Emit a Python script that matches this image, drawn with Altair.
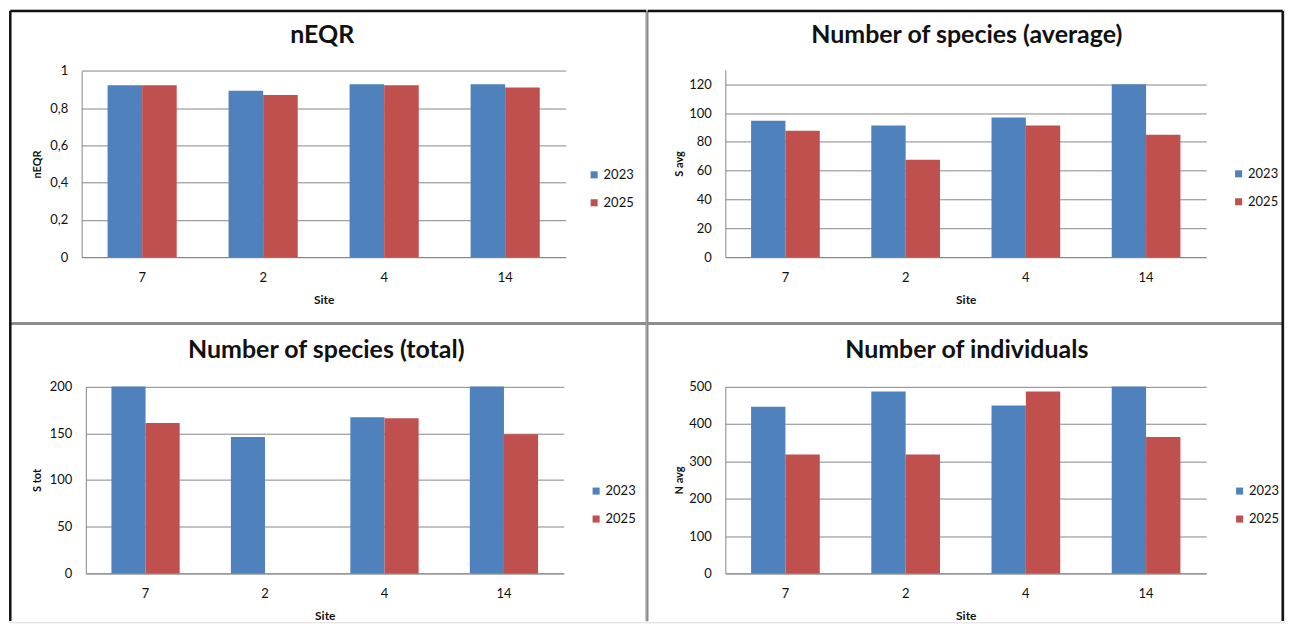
import altair as alt
import pandas as pd

# ---------------- data ----------------
sites = ["7", "2", "4", "14"]
years = ["2023", "2025"]

neqr_2023 = [0.923, 0.893, 0.928, 0.928]
neqr_2025 = [0.923, 0.871, 0.923, 0.911]

savg_2023 = [94.6, 91.4, 96.9, 120.0]
savg_2025 = [87.7, 67.6, 91.4, 85.0]

stot_2023 = [200, 146, 167, 200]
stot_2025 = [161, None, 166, 149]

navg_2023 = [446, 487, 449, 500]
navg_2025 = [318, 318, 487, 365]

titles = ["nEQR", "Number of species (average)", "Number of species (total)", "Number of individuals"]
ytitles = ["nEQR", "S avg", "S tot", "N avg"]
ydomains = [[0, 1], [0, 130], [0, 200], [0, 500]]
yticks = [[0, 0.2, 0.4, 0.6, 0.8, 1], [0, 20, 40, 60, 80, 100, 120],
          [0, 50, 100, 150, 200], [0, 100, 200, 300, 400, 500]]

BLUE = "#4F81BD"
RED = "#C0504D"
GRID = "#868686"
FONT = "Lato"
TITLE_SIZE = 25

one = pd.DataFrame({"d": [0]})


def make_df(v23, v25):
    rows = []
    for s, a, b in zip(sites, v23, v25):
        if a is not None:
            rows.append({"Site": s, "Year": "2023", "Value": a})
        if b is not None:
            rows.append({"Site": s, "Year": "2025", "Value": b})
    return pd.DataFrame(rows)


def rule(x1, y1, x2, y2, color, w):
    return alt.Chart(one).mark_rule(color=color, strokeWidth=w).encode(
        x=alt.value(x1), y=alt.value(y1), x2=alt.value(x2), y2=alt.value(y2))


def panel(i, v23, v25, cw, ch, xr, yr, ytitle_dx, title_dx, title_y, legend_xy, borders):
    df = make_df(v23, v25)
    comma = i == 0
    label_expr = "replace(format(datum.value, '~g'), '.', ',')" if comma else "format(datum.value, 'd')"
    bars = alt.Chart(df).mark_bar().encode(
        x=alt.X("Site:N", sort=sites,
                scale=alt.Scale(domain=sites, range=xr, paddingInner=0.4286, paddingOuter=0.2143),
                axis=alt.Axis(title="Site", offset=-(ch - yr[0]), labelAngle=0, ticks=False, tickSize=0,
                              domainColor=GRID, domainWidth=1, labelFontSize=13, labelColor="#111",
                              labelPadding=20, labelBaseline="middle", labelFont=FONT,
                              titleFont=FONT, titleFontSize=12, titleFontWeight="bold", titleColor="#111",
                              titleX=(xr[0] + xr[1]) / 2, titleY=42, titleBaseline="middle",
                              titleAlign="center")),
        xOffset=alt.XOffset("Year:N", scale=alt.Scale(domain=years, paddingInner=0, paddingOuter=0)),
        y=alt.Y("Value:Q",
                scale=alt.Scale(domain=ydomains[i], range=yr, nice=False, zero=True),
                axis=alt.Axis(title=ytitles[i], values=yticks[i], offset=-xr[0], grid=True,
                              gridColor=GRID, gridWidth=1, domainColor=GRID, domainWidth=1,
                              ticks=False, tickSize=0, labelPadding=14, labelFontSize=13,
                              labelColor="#111", labelFont=FONT, labelExpr=label_expr,
                              titleFont=FONT, titleFontSize=11, titleFontWeight="bold",
                              titleColor="#111", titleAngle=270, titleX=ytitle_dx,
                              titleY=(yr[0] + yr[1]) / 2, titleAlign="center",
                              titleBaseline="middle")),
        color=alt.Color("Year:N", scale=alt.Scale(domain=years, range=[BLUE, RED]),
                        legend=alt.Legend(title=None, orient="none", legendX=legend_xy[0],
                                          legendY=legend_xy[1], symbolType="square",
                                          symbolSize=50, symbolStrokeWidth=0, labelFontSize=13,
                                          labelFont=FONT, labelColor="#111", rowPadding=14,
                                          labelOffset=3)),
    )
    rules = [rule(*b) for b in borders]
    return alt.layer(bars, *rules).properties(
        width=cw, height=ch,
        title=alt.TitleParams(titles[i], anchor="middle", frame="group",
                              offset=-(title_y + TITLE_SIZE),
                              baseline="middle", fontSize=TITLE_SIZE, font=FONT, fontWeight="bold",
                              color="#111", dx=title_dx),
    )


GRAYB = "#8c8c8c"
BLACK = "#111"
W1, W2 = 639, 639
H1, H2 = 314, 300
E = 1.3  # keep border strokes inside each panel

p1 = panel(0, neqr_2023, neqr_2025, W1, H1, [72.8, 558], [248, 61.3], -44, -5.5, 25, [580, 159],
           [(W1, E, W1, H1, GRAYB, 2), (E, H1, W1, H1, GRAYB, 2),
            (E, E, E, H1, BLACK, 2.5), (E, E, W1, E, BLACK, 2.5)])
p2 = panel(1, savg_2023, savg_2025, W2, H1, [79, 561], [248, 60.2], -46, 1.5, 25, [587, 158],
           [(1, E, 1, H1, GRAYB, 2), (E, H1, W2 - E, H1, GRAYB, 2),
            (E, E, W2 - E, E, BLACK, 2.5), (W2 - E, E, W2 - E, H1, BLACK, 2.5)])
p3 = panel(2, stot_2023, stot_2025, W1, H2, [77, 556], [251, 63.7], -48.5, -1.5, 28, [582, 162],
           [(W1, 0, W1, H2 - E, GRAYB, 2), (E, 1, W1, 1, GRAYB, 2),
            (E, 0, E, H2 - E, BLACK, 2.5)])
p4 = panel(3, navg_2023, navg_2025, W2, H2, [79, 561], [251, 63.7], -46, 1.5, 28, [588, 162],
           [(1, 0, 1, H2 - E, GRAYB, 2), (E, 1, W2 - E, 1, GRAYB, 2),
            (W2 - E, 0, W2 - E, H2 - E, BLACK, 2.5)])

res = dict(color="independent", xOffset="independent", x="independent", y="independent")

chart = (
    alt.concat(p1, p2, p3, p4, columns=2, spacing=0, bounds="flush")
    .resolve_scale(**res)
    .resolve_legend(color="independent")
    .properties(padding=0, background="white")
    .configure_view(stroke=None)
    .configure(font=FONT)
)

chart.save("out.html", embed_options={"renderer": "svg", "actions": False})
